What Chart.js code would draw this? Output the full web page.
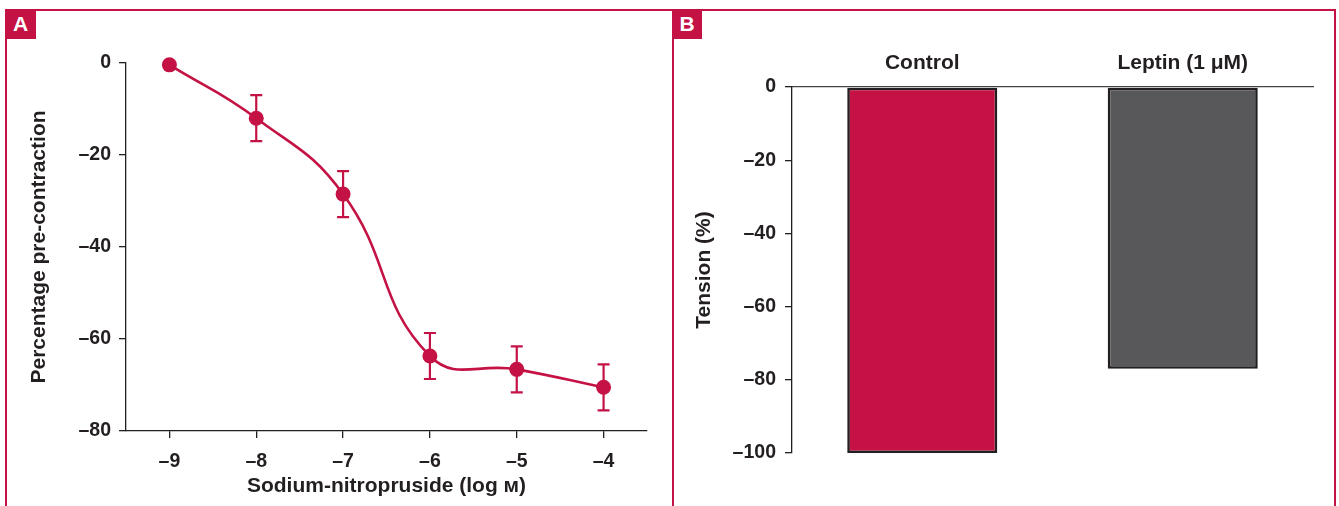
<!DOCTYPE html>
<html><head><meta charset="utf-8">
<script src="https://cdn.jsdelivr.net/npm/chart.js@4.4.1/dist/chart.umd.min.js"></script>
<style>
html,body{margin:0;padding:0;background:#fff;width:1339px;height:506px;overflow:hidden;font-family:"Liberation Sans",Arial,sans-serif;}
#wrapA{position:absolute;left:0;top:0;width:672px;height:506px;}
#wrapB{position:absolute;left:673px;top:0;width:666px;height:506px;}
.ln{position:absolute;background:#c41245;}
.lab{position:absolute;background:#c41245;color:#fff;font-weight:bold;font-size:21px;line-height:30px;text-align:center;}
</style></head><body>
<div id="wrapA"><canvas id="cA" width="672" height="506"></canvas></div>
<div id="wrapB"><canvas id="cB" width="666" height="506"></canvas></div>
<div class="ln" style="left:5px;top:9px;width:1331px;height:2px"></div>
<div class="ln" style="left:5px;top:9px;width:2px;height:497px"></div>
<div class="ln" style="left:672px;top:9px;width:2px;height:497px"></div>
<div class="ln" style="left:1334px;top:9px;width:2px;height:497px"></div>
<div class="lab" style="left:5px;top:9px;width:31px;height:30px">A</div>
<div class="lab" style="left:672px;top:9px;width:30px;height:30px">B</div>
<script>
// ---- Data: panel A ----
const doseLog = [-9, -8, -7, -6, -5, -4];
const pctContraction = [-0.4, -12, -28.5, -63.7, -66.6, -70.5];
const pctError = [0, 5, 5, 5, 5, 5];
const xTickValues = [-9, -8, -7, -6, -5, -4];
const xTickLabels = ['–9', '–8', '–7', '–6', '–5', '–4'];
const yTickValuesA = [0, -20, -40, -60, -80];
const yTickLabelsA = ['0', '–20', '–40', '–60', '–80'];
// ---- Data: panel B ----
const groups = ['Control', 'Leptin (1 μM)'];
const tension = [-100, -77];
const yTickValuesB = [0, -20, -40, -60, -80, -100];
const yTickLabelsB = ['0', '–20', '–40', '–60', '–80', '–100'];

const CRIMSON = '#c41245';
const DARK = '#231f20';
const GREY = '#58585a';
const FAM = '"Liberation Sans", Arial, Helvetica, sans-serif';
Chart.defaults.font.family = FAM;
Chart.defaults.color = DARK;

const errorBars = {
  id: 'errorBars',
  afterDatasetsDraw(chart) {
    const {ctx, scales: {x, y}} = chart;
    ctx.save();
    ctx.strokeStyle = CRIMSON;
    ctx.lineWidth = 2.2;
    doseLog.forEach((d, i) => {
      const e = pctError[i];
      if (!e) return;
      const px = x.getPixelForValue(d);
      const top = y.getPixelForValue(pctContraction[i] + e);
      const bot = y.getPixelForValue(pctContraction[i] - e);
      ctx.beginPath();
      ctx.moveTo(px, top); ctx.lineTo(px, bot);
      ctx.moveTo(px - 6, top); ctx.lineTo(px + 6, top);
      ctx.moveTo(px - 6, bot); ctx.lineTo(px + 6, bot);
      ctx.stroke();
    });
    ctx.restore();
  }
};

new Chart(document.getElementById('cA'), {
  type: 'scatter',
  data: {
    datasets: [{
      data: doseLog.map((d, i) => ({x: d, y: pctContraction[i]})),
      showLine: true,
      tension: 0.45,
      borderColor: CRIMSON,
      backgroundColor: CRIMSON,
      borderWidth: 2.6,
      pointRadius: 7.5,
      pointBackgroundColor: CRIMSON,
      pointBorderWidth: 0,
      clip: false
    }]
  },
  plugins: [errorBars],
  options: {
    responsive: false,
    animation: false,
    layout: {padding: {left: 0, right: 25, top: 63, bottom: 0}},
    plugins: {legend: {display: false}, tooltip: {enabled: false}},
    scales: {
      x: {
        type: 'linear', min: -9.5, max: -3.5,
        afterBuildTicks: s => { s.ticks = xTickValues.map(v => ({value: v})); },
        afterFit: s => { s.height = 75; },
        ticks: {
          callback: (v) => xTickLabels[xTickValues.indexOf(v)],
          font: {size: 19.5, weight: 'bold'}, color: DARK, padding: 12, maxRotation: 0
        },
        grid: {display: true, drawOnChartArea: false, drawTicks: true, tickLength: 7, color: DARK, lineWidth: 1.3},
        border: {display: true, color: DARK, width: 1.3},
        title: {display: true, text: 'Sodium-nitropruside (log м)', font: {size: 21, weight: 'bold'}, color: DARK, padding: {top: 0, bottom: 7}}
      },
      y: {
        type: 'linear', min: -80, max: 0,
        afterBuildTicks: s => { s.ticks = yTickValuesA.map(v => ({value: v})); },
        afterFit: s => { s.width = 126; },
        ticks: {
          callback: (v) => yTickLabelsA[yTickValuesA.indexOf(v)],
          font: {size: 19.5, weight: 'bold'}, color: DARK, padding: 8
        },
        grid: {display: true, drawOnChartArea: false, drawTicks: true, tickLength: 7, color: DARK, lineWidth: 1.3},
        border: {display: true, color: DARK, width: 1.3},
        title: {display: true, text: 'Percentage pre-contraction', font: {size: 21, weight: 'bold'}, color: DARK, padding: {top: 27, bottom: 0}}
      }
    }
  }
});

new Chart(document.getElementById('cB'), {
  type: 'bar',
  data: {
    labels: groups,
    datasets: [{
      data: tension,
      backgroundColor: [CRIMSON, GREY],
      borderColor: DARK,
      borderWidth: 2.6,
      borderSkipped: false,
      barPercentage: 0.576,
      categoryPercentage: 1
    }]
  },
  options: {
    responsive: false,
    animation: false,
    layout: {padding: {left: 0, right: 26, top: 0, bottom: 53}},
    plugins: {legend: {display: false}, tooltip: {enabled: false}},
    scales: {
      x: {
        position: 'top',
        afterFit: s => { s.height = 87; },
        ticks: {font: {size: 21, weight: 'bold'}, color: DARK, padding: 11, maxRotation: 0},
        grid: {display: true, drawOnChartArea: false, drawTicks: false, color: DARK},
        border: {display: true, color: '#444', width: 1.3}
      },
      y: {
        type: 'linear', min: -100, max: 0,
        afterBuildTicks: s => { s.ticks = yTickValuesB.map(v => ({value: v})); },
        afterFit: s => { s.width = 119; },
        ticks: {
          callback: (v) => yTickLabelsB[yTickValuesB.indexOf(v)],
          font: {size: 19.5, weight: 'bold'}, color: DARK, padding: 9
        },
        grid: {display: true, drawOnChartArea: false, drawTicks: true, tickLength: 7, color: DARK, lineWidth: 1.3},
        border: {display: true, color: DARK, width: 1.3},
        title: {display: true, text: 'Tension (%)', font: {size: 21, weight: 'bold'}, color: DARK, padding: {top: 19, bottom: 0}}
      }
    }
  }
});
</script>
</body></html>
